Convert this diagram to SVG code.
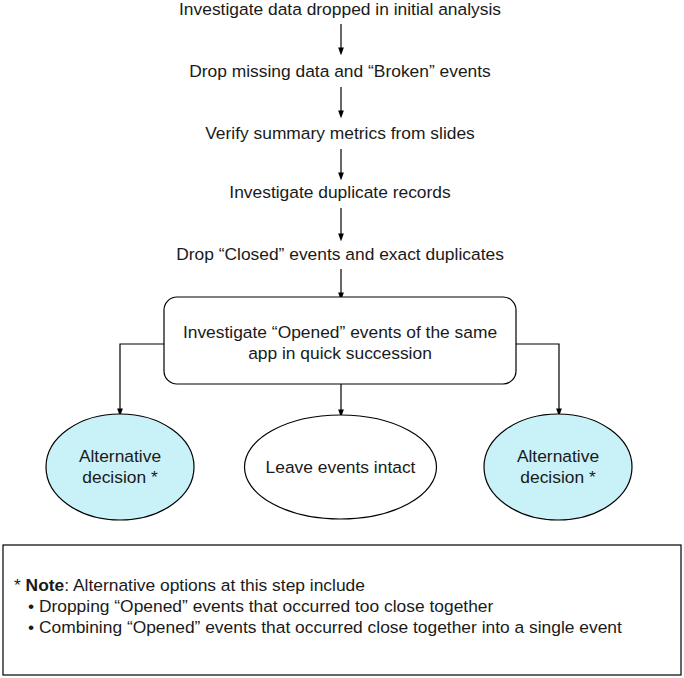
<svg xmlns="http://www.w3.org/2000/svg" width="684" height="678" viewBox="0 0 684 678">
<defs>
<marker id="ah" markerWidth="8" markerHeight="14" refX="8" refY="5" orient="auto" markerUnits="userSpaceOnUse" viewBox="0 0 14 10">
<path d="M0,0 L14,5 L0,10 Z" fill="#000"/>
</marker>
<style>
text{font-family:"Liberation Sans",Arial,sans-serif;font-size:17.4px;fill:#1a1a1a}
.c{text-anchor:middle}
.ln{fill:none;stroke:#000;stroke-width:1.2}
.alt{fill:#c9f1f8;stroke:#000;stroke-width:1.2}
.wht{fill:#fff;stroke:#000;stroke-width:1.2}
</style>
</defs>
<rect width="684" height="678" fill="#fff"/>
<g id="connectors">
<path class="ln" d="M341,24 V52" marker-end="url(#ah)"/>
<path class="ln" d="M341,87 V115" marker-end="url(#ah)"/>
<path class="ln" d="M341,149 V177" marker-end="url(#ah)"/>
<path class="ln" d="M341,208 V238" marker-end="url(#ah)"/>
<path class="ln" d="M341,269 V297" marker-end="url(#ah)"/>
<path class="ln" d="M164,344 H120 V413" marker-end="url(#ah)"/>
<path class="ln" d="M516,344 H559 V413" marker-end="url(#ah)"/>
<path class="ln" d="M341,384 V414" marker-end="url(#ah)"/>
</g>
<g id="n1"><text class="c" x="340" y="15">Investigate data dropped in initial analysis</text></g>
<g id="n2"><text class="c" x="340" y="77">Drop missing data and “Broken” events</text></g>
<g id="n3"><text class="c" x="340" y="139">Verify summary metrics from slides</text></g>
<g id="n4"><text class="c" x="340" y="198">Investigate duplicate records</text></g>
<g id="n5"><text class="c" x="340" y="260">Drop “Closed” events and exact duplicates</text></g>
<g id="n6">
<rect class="wht" x="164" y="297" width="352" height="87" rx="13"/>
<text class="c" x="340" y="338">Investigate “Opened” events of the same</text>
<text class="c" x="340" y="359">app in quick succession</text>
</g>
<g id="n7">
<ellipse class="alt" cx="120" cy="467" rx="74" ry="53"/>
<text class="c" x="120" y="462">Alternative</text>
<text class="c" x="120" y="483">decision *</text>
</g>
<g id="n8">
<ellipse class="wht" cx="340.5" cy="467" rx="96" ry="52"/>
<text class="c" x="340.5" y="473">Leave events intact</text>
</g>
<g id="n9">
<ellipse class="alt" cx="558" cy="467" rx="74" ry="53"/>
<text class="c" x="558" y="462">Alternative</text>
<text class="c" x="558" y="483">decision *</text>
</g>
<g id="note">
<rect class="wht" x="3" y="545" width="678" height="130"/>
<text x="14" y="591">* <tspan font-weight="bold">Note</tspan>: Alternative options at this step include</text>
<text x="28" y="612">• Dropping “Opened” events that occurred too close together</text>
<text x="28" y="633">• Combining “Opened” events that occurred close together into a single event</text>
</g>
</svg>
